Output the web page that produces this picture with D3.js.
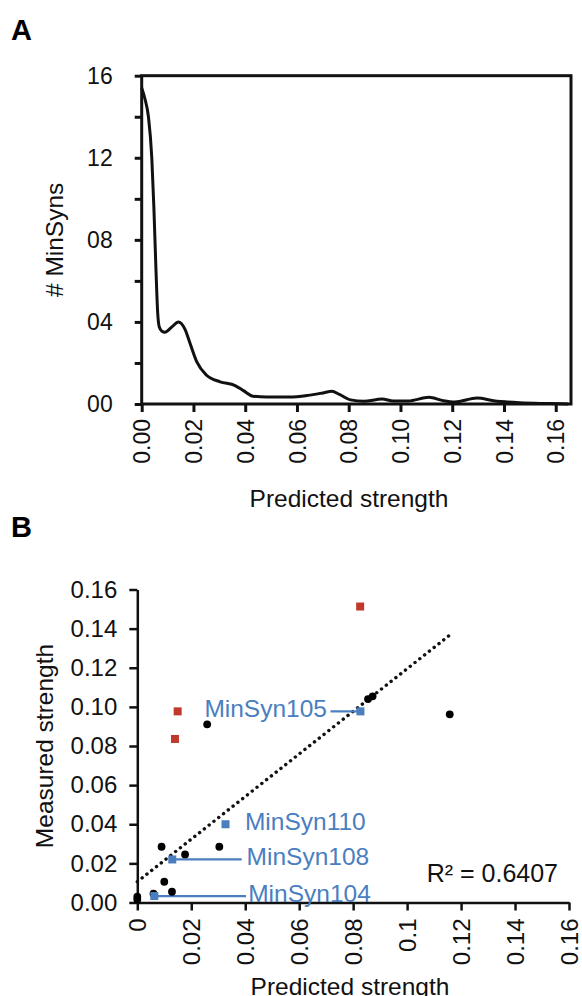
<!DOCTYPE html>
<html lang="en">
<head>
    <meta charset="UTF-8">
    <title>MinSyn strength</title>
    <script src="https://d3js.org/d3.v7.min.js"></script>
    <style>
        body { margin: 0; background: #fff; }
        svg { display: block; font-family: "Liberation Sans", Arial, sans-serif; }
        .panel-letter { font-weight: bold; font-size: 29px; }
        .axis-label { font-size: 24.5px; fill: #111; }
    </style>
</head>
<body>
    <div id="chart"></div>

    <script>
        // Panel A : density of predicted strengths
        const densityX = [0, 0.0012, 0.0026, 0.0039, 0.0047, 0.0055, 0.0062, 0.0068, 0.0078, 0.009, 0.0116,
            0.0142, 0.0167, 0.0187, 0.0213, 0.0251, 0.0303, 0.0361, 0.0393, 0.0431, 0.0483,
            0.057, 0.0642, 0.070, 0.0735, 0.0764, 0.0807, 0.0858, 0.0929, 0.0972, 0.103,
            0.111, 0.1166, 0.121, 0.1296, 0.136, 0.146, 0.1576, 0.1648];
        const densityY = [15.4, 14.9, 14.0, 12.0, 9.6, 6.6, 4.4, 3.75, 3.55, 3.5, 3.75,
            4.0, 3.65, 2.95, 2.05, 1.4, 1.08, 0.9, 0.65, 0.38, 0.34,
            0.34, 0.42, 0.54, 0.62, 0.47, 0.2, 0.13, 0.24, 0.15, 0.15,
            0.33, 0.16, 0.1, 0.29, 0.16, 0.06, 0.02, 0.0];
        const ticksXA = [0, 0.02, 0.04, 0.06, 0.08, 0.10, 0.12, 0.14, 0.16];
        const tickLabelsXA = ["0.00", "0.02", "0.04", "0.06", "0.08", "0.10", "0.12", "0.14", "0.16"];
        const ticksYA = [0, 2, 4, 6, 8, 10, 12, 14, 16];
        const tickLabelsYA = ["00", "", "04", "", "08", "", "12", "", "16"];

        // Panel B : measured vs predicted
        const blackX = [0, 0, 0.0060, 0.0090, 0.0100, 0.01285, 0.0177, 0.0259, 0.0304, 0.0855, 0.0872, 0.1158];
        const blackY = [0.0030, 0.0015, 0.0045, 0.0285, 0.0106, 0.0055, 0.0246, 0.0911, 0.0285, 0.1040, 0.1054, 0.0962];
        const redX = [0.01496, 0.01396, 0.0826];
        const redY = [0.0977, 0.0836, 0.1513];
        const blueNames = ["MinSyn105", "MinSyn110", "MinSyn108", "MinSyn104"];
        const blueX = [0.0827, 0.0327, 0.01296, 0.0063];
        const blueY = [0.0977, 0.0400, 0.0220, 0.0033];
        const trendX = [0, 0.117];
        const trendY = [0.0106, 0.138];
        const rSquared = "R² = 0.6407";
        const ticksB = [0, 0.02, 0.04, 0.06, 0.08, 0.10, 0.12, 0.14, 0.16];
        const tickLabelsXB = ["0", "0.02", "0.04", "0.06", "0.08", "0.1", "0.12", "0.14", "0.16"];
        const tickLabelsYB = ["0.00", "0.02", "0.04", "0.06", "0.08", "0.10", "0.12", "0.14", "0.16"];

        const blue = "#4a7ebf", red = "#c0392b";

        const svg = d3.select("#chart").append("svg")
            .attr("width", 582)
            .attr("height", 996);

        // ---------- Panel A ----------
        const xA = d3.scaleLinear().domain([0, 0.1659]).range([141.7, 571]);
        const yA = d3.scaleLinear().domain([0, 16]).range([404, 75.7]);

        svg.append("text").attr("class", "panel-letter").attr("x", 11).attr("y", 40).text("A");

        const gA = svg.append("g");
        const axA = gA.append("g").attr("transform", `translate(0,${yA(0)})`)
            .call(d3.axisBottom(xA).tickValues(ticksXA).tickSize(8).tickSizeOuter(0)
                .tickFormat((d, i) => tickLabelsXA[i]));
        axA.selectAll("text")
            .attr("transform", "rotate(-90)")
            .attr("x", -15).attr("y", 0).attr("dy", "0.35em")
            .style("text-anchor", "end");
        const ayA = gA.append("g").attr("transform", `translate(${xA(0)},0)`)
            .call(d3.axisLeft(yA).tickValues(ticksYA).tickSize(7).tickSizeOuter(0).tickPadding(22)
                .tickFormat((d, i) => tickLabelsYA[i]));
        [axA, ayA].forEach(g => {
            g.select(".domain").remove();
            g.selectAll("line").attr("stroke", "#111").attr("stroke-width", 3);
            g.selectAll("text").attr("font-size", 23).attr("fill", "#111").attr("font-family", null);
        });

        gA.append("rect")
            .attr("x", xA(0)).attr("y", yA(16))
            .attr("width", xA.range()[1] - xA(0)).attr("height", yA(0) - yA(16))
            .attr("fill", "none").attr("stroke", "#111").attr("stroke-width", 3);

        const densityLine = d3.line()
            .x(i => xA(densityX[i]))
            .y(i => yA(densityY[i]))
            .curve(d3.curveMonotoneX);
        gA.append("path")
            .attr("d", densityLine(d3.range(densityX.length)))
            .attr("fill", "none").attr("stroke", "#111").attr("stroke-width", 3)
            .attr("stroke-linejoin", "round");

        svg.append("text").attr("class", "axis-label")
            .attr("x", 349).attr("y", 506.5).attr("text-anchor", "middle")
            .text("Predicted strength");
        svg.append("text").attr("class", "axis-label")
            .attr("transform", `translate(63,${(yA(0) + yA(16)) / 2}) rotate(-90)`)
            .attr("text-anchor", "middle").attr("font-size", 28)
            .text("# MinSyns");

        // ---------- Panel B ----------
        const xB = d3.scaleLinear().domain([0, 0.16]).range([137.3, 569]);
        const yB = d3.scaleLinear().domain([0, 0.16]).range([902.5, 589.5]);

        svg.append("text").attr("class", "panel-letter").attr("x", 11).attr("y", 537).text("B");

        const gB = svg.append("g");
        const axB = gB.append("g").attr("transform", `translate(0,${yB(0)})`)
            .call(d3.axisBottom(xB).tickValues(ticksB).tickSize(8).tickSizeOuter(0)
                .tickFormat((d, i) => tickLabelsXB[i]));
        axB.selectAll("text")
            .attr("transform", "rotate(-90)")
            .attr("x", -16).attr("y", 0).attr("dy", "0.35em")
            .style("text-anchor", "end");
        const ayB = gB.append("g").attr("transform", `translate(${xB(0)},0)`)
            .call(d3.axisLeft(yB).tickValues(ticksB).tickSize(8).tickSizeOuter(0).tickPadding(12)
                .tickFormat((d, i) => tickLabelsYB[i]));
        [axB, ayB].forEach(g => {
            g.select(".domain").attr("stroke", "#111").attr("stroke-width", 2.5);
            g.selectAll("line").attr("stroke", "#111").attr("stroke-width", 2.5);
            g.selectAll("text").attr("font-size", 24).attr("fill", "#111").attr("font-family", null);
        });

        // trend line (dotted)
        gB.append("line")
            .attr("x1", xB(trendX[0])).attr("y1", yB(trendY[0]))
            .attr("x2", xB(trendX[1])).attr("y2", yB(trendY[1]))
            .attr("stroke", "#111").attr("stroke-width", 3.4)
            .attr("stroke-linecap", "round").attr("stroke-dasharray", "0.1,6");

        // leader lines + labels for the blue points
        const labelEndX = { MinSyn105: 0.0716, MinSyn110: null, MinSyn108: 0.0387, MinSyn104: 0.0403 };
        const labelStartX = { MinSyn105: 0.0703, MinSyn110: 0.0399, MinSyn108: 0.0405, MinSyn104: 0.0411 };
        blueNames.forEach((name, i) => {
            const px = xB(blueX[i]), py = yB(blueY[i]);
            if (labelEndX[name] !== null) {
                gB.append("line")
                    .attr("x1", px).attr("y1", py)
                    .attr("x2", xB(labelEndX[name])).attr("y2", py)
                    .attr("stroke", blue).attr("stroke-width", 2.2);
            }
            const rightSide = labelStartX[name] > blueX[i];
            gB.append("text")
                .attr("x", xB(labelStartX[name]))
                .attr("y", py - 3)
                .attr("dy", "0.35em")
                .attr("text-anchor", rightSide ? "start" : "end")
                .attr("font-size", 24.5)
                .attr("fill", blue)
                .text(name);
        });

        gB.selectAll("circle.black")
            .data(d3.range(blackX.length))
            .join("circle")
            .attr("class", "black")
            .attr("cx", i => xB(blackX[i]))
            .attr("cy", i => yB(blackY[i]))
            .attr("r", 3.9)
            .attr("fill", "#000");

        gB.selectAll("rect.red")
            .data(d3.range(redX.length))
            .join("rect")
            .attr("class", "red")
            .attr("x", i => xB(redX[i]) - 4)
            .attr("y", i => yB(redY[i]) - 4)
            .attr("width", 8).attr("height", 8)
            .attr("fill", red);

        gB.selectAll("rect.blue")
            .data(d3.range(blueX.length))
            .join("rect")
            .attr("class", "blue")
            .attr("x", i => xB(blueX[i]) - 4)
            .attr("y", i => yB(blueY[i]) - 4)
            .attr("width", 8).attr("height", 8)
            .attr("fill", blue);

        svg.append("text")
            .attr("x", 558).attr("y", 882).attr("text-anchor", "end")
            .attr("font-size", 25).attr("fill", "#111")
            .text(rSquared);

        svg.append("text").attr("class", "axis-label")
            .attr("x", 350).attr("y", 995).attr("text-anchor", "middle")
            .text("Predicted strength");
        svg.append("text").attr("class", "axis-label")
            .attr("transform", `translate(53,${(yB(0) + yB(0.16)) / 2}) rotate(-90)`)
            .attr("text-anchor", "middle")
            .text("Measured strength");
    </script>
</body>
</html>
